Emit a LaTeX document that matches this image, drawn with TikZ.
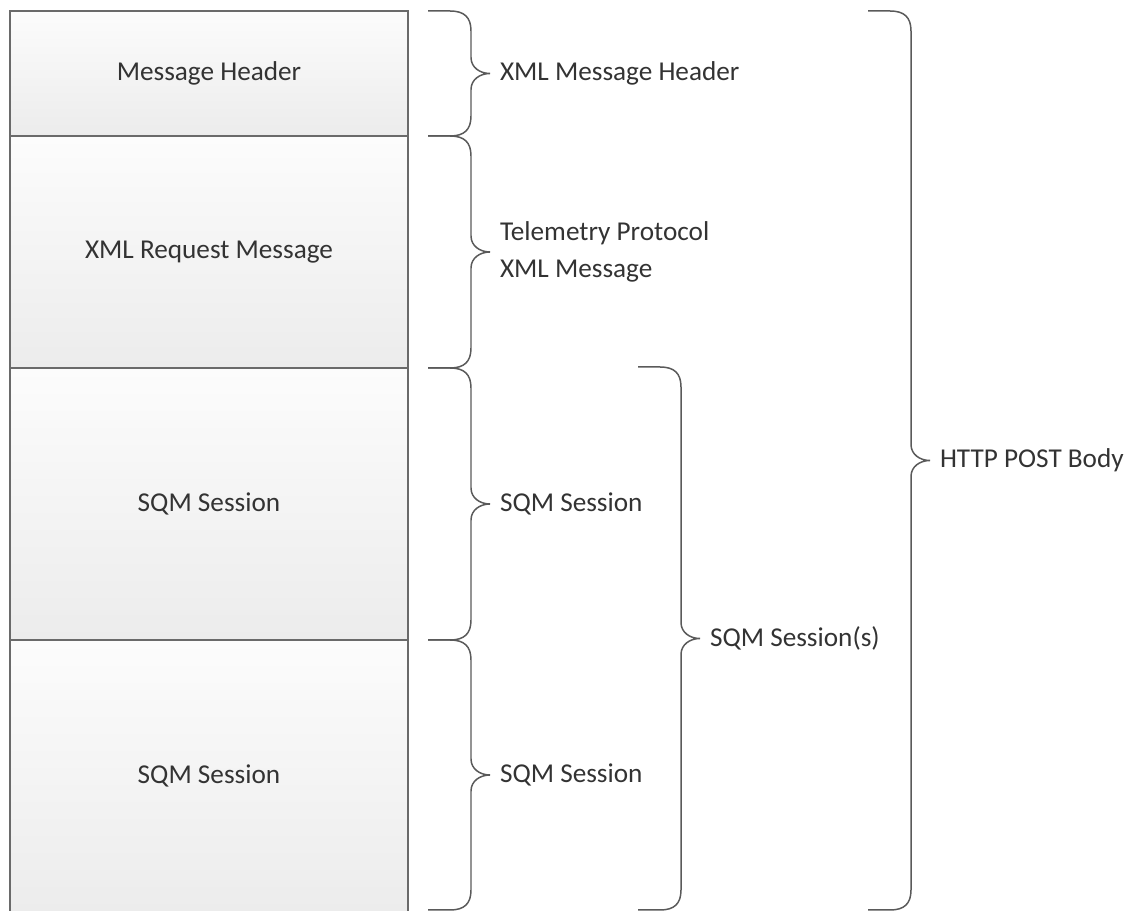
\documentclass[tikz,border=0pt]{standalone}
\usepackage{fontspec}
\setmainfont{Carlito}
\usetikzlibrary{positioning}
\definecolor{boxline}{HTML}{6A6A6A}
\definecolor{braceline}{HTML}{5A5A5A}
\definecolor{labeltext}{HTML}{333333}
\definecolor{boxtop}{HTML}{FCFCFC}
\definecolor{boxbottom}{HTML}{ECECEC}
% curly brace with flat ends, tip on the right; #1 left x, #2 top y, #3 bottom y, #4 name, #5 label
\newcommand{\partbrace}[5]{%
  \draw[braceline, line width=0.85pt] (#1,#2) -- ({#1+22},#2)
    .. controls ({#1+36},#2) and ({#1+43},{#2+6}) .. ({#1+43},{#2+20})
    -- ({#1+43},{(#2+#3)/2-16})
    .. controls ({#1+43},{(#2+#3)/2-6}) and ({#1+52},{(#2+#3)/2}) .. ({#1+62},{(#2+#3)/2})
    coordinate (#4 tip)
    .. controls ({#1+52},{(#2+#3)/2}) and ({#1+43},{(#2+#3)/2+6}) .. ({#1+43},{(#2+#3)/2+16})
    -- ({#1+43},{#3-20})
    .. controls ({#1+43},{#3-6}) and ({#1+36},#3) .. ({#1+22},#3) -- (#1,#3);
  \node (#4) [bracelabel, right=5.5pt of #4 tip] {#5};
}
\begin{document}
\begin{tikzpicture}[x=0.02cm, y=-0.02cm,
    font=\fontsize{15.5}{21}\selectfont,
    partbox/.style={draw=boxline, line width=1.1pt, top color=boxtop, bottom color=boxbottom,
      minimum width=7.96cm, outer sep=0pt, inner sep=0pt, text=labeltext},
    bracelabel/.style={inner sep=0pt, align=left, text=labeltext}]
  \useasboundingbox (0,0) rectangle (1134,911);
  % the stacked parts
  \node (header) [partbox, minimum height=2.5cm] at (209,73.5) {Message Header};
  \node (request) [partbox, minimum height=4.64cm, below=0pt of header] {XML Request Message};
  \node (session a) [partbox, minimum height=5.44cm, below=0pt of request] {SQM Session};
  \node (session b) [partbox, minimum height=5.44cm, below=0pt of session a] {SQM Session};
  % the braces
  \partbrace{428}{11}{136}{xml header}{XML Message Header}
  \partbrace{428}{136}{368}{telemetry}{Telemetry Protocol\\XML Message}
  \partbrace{428}{368}{640}{sqm a}{SQM Session}
  \partbrace{428}{640}{910}{sqm b}{SQM Session}
  \partbrace{638}{367}{910}{sqm all}{SQM Session(s)}
  \partbrace{868}{11}{910}{post body}{HTTP POST Body}
\end{tikzpicture}
\end{document}
